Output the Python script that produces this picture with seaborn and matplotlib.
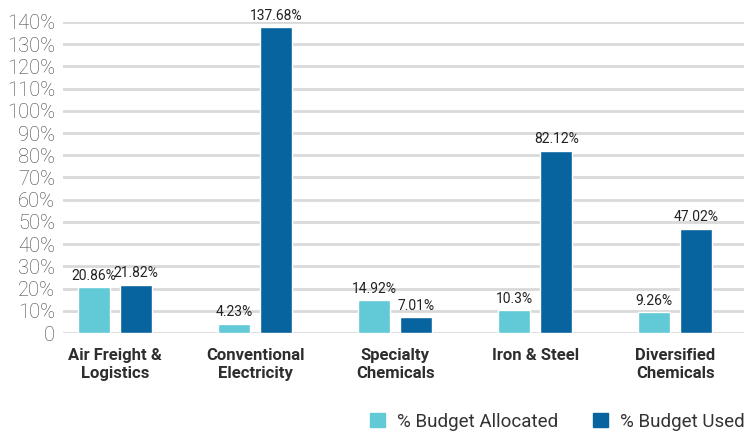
import numpy as np
import pandas as pd
import matplotlib.pyplot as plt
import seaborn as sns

# Data
categories = ['Air Freight &\nLogistics', 'Conventional\nElectricity', 'Specialty\nChemicals',
              'Iron & Steel', 'Diversified\nChemicals']
allocated = [20.86, 4.23, 14.92, 10.3, 9.26]
used = [21.82, 137.68, 7.01, 82.12, 47.02]
allocated_labels = ['20.86%', '4.23%', '14.92%', '10.3%', '9.26%']
used_labels = ['21.82%', '137.68%', '7.01%', '82.12%', '47.02%']
series = ['% Budget Allocated', '% Budget Used']
colors = ['#62C9D6', '#07649E']

df = pd.DataFrame({
    'category': categories * 2,
    'value': allocated + used,
    'series': [series[0]] * len(categories) + [series[1]] * len(categories),
})

sns.set_style('white')
plt.rcParams['font.family'] = ['Roboto', 'DejaVu Sans']

fig = plt.figure(figsize=(7.44, 4.38), dpi=100)
ax = fig.add_axes([0.085, 0.2397, 0.915, 0.7101])

sns.barplot(data=df, x='category', y='value', hue='series', palette=colors,
            width=0.6, gap=0.24, ax=ax, saturation=1, legend=True)

# Data labels
for cont, labs in zip(ax.containers, [allocated_labels, used_labels]):
    ax.bar_label(cont, labels=labs, padding=3, fontsize=10, color='#222222', clip_on=False)

ax.set_ylim(0, 140)
ax.set_xlim(-0.371, 4.49)
ax.set_yticks(np.arange(0, 141, 10))
ax.set_yticklabels(['0'] + [f'{v}%' for v in range(10, 141, 10)],
                   fontsize=14.5, color='#444444', fontweight='light')
ax.set_xticks(range(len(categories)))
ax.set_xticklabels(categories, fontsize=12, fontweight='bold', color='#2e2e2e')
ax.tick_params(axis='both', length=0, pad=6)
ax.tick_params(axis='x', pad=11)
ax.set_xlabel('')
ax.set_ylabel('')
ax.yaxis.grid(True, color='#d9d9d9', linewidth=2)
ax.set_axisbelow(True)
for s in ax.spines.values():
    s.set_visible(False)

ax.legend_.remove()
handles = [plt.Rectangle((0, 0), 1, 1, color=c) for c in colors]
fig.legend(handles, series, loc='lower left', bbox_to_anchor=(0.475, -0.022), ncol=2,
           frameon=False, fontsize=13.5, handlelength=0.8, handleheight=0.8,
           columnspacing=1.9, handletextpad=0.6, labelcolor='#333333')

fig.savefig('out.png', dpi=100)
